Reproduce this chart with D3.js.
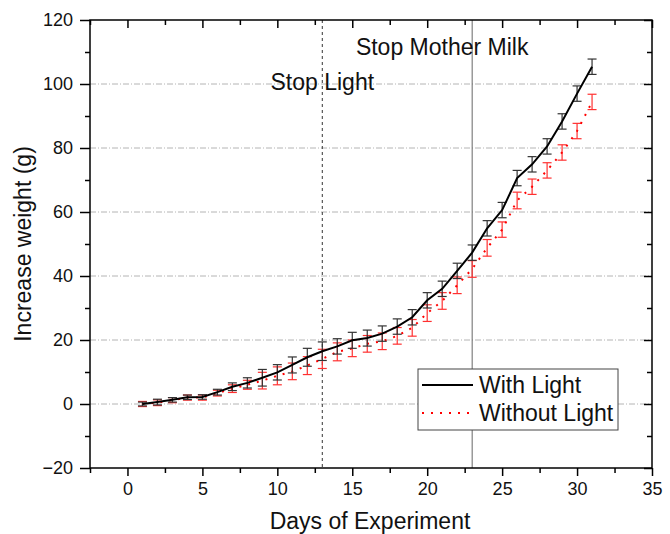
<!DOCTYPE html>
<html>
<head>
<meta charset="utf-8">
<script src="https://cdn.jsdelivr.net/npm/d3@7"></script>
<style>
  html, body { margin: 0; padding: 0; background: #fff; }
  svg { display: block; font-family: "Liberation Sans", Arial, sans-serif; }
</style>
</head>
<body>
<svg id="chart" width="670" height="534"></svg>
<script>
// ---- data ----
const days = [1,2,3,4,5,6,7,8,9,10,11,12,13,14,15,16,17,18,19,20,21,22,23,24,25,26,27,28,29,30,31];
const withLight = [0, 0.6, 1.3, 2.1, 2.2, 3.7, 5.4, 6.6, 8.2, 9.9, 12.2, 14.6, 16.5, 18.0, 19.9, 20.6, 22.0, 24.2, 27.1, 32.4, 36.0, 41.6, 47.3, 54.9, 60.6, 70.6, 74.9, 80.5, 88.3, 97.0, 105.4];
const withLightErr = [0.6, 0.9, 0.7, 0.7, 0.7, 0.9, 1.2, 1.6, 2.6, 2.4, 2.5, 2.8, 2.9, 2.4, 2.5, 2.5, 2.4, 2.4, 2.4, 2.4, 2.4, 2.4, 2.4, 2.4, 2.4, 2.4, 2.4, 2.4, 2.4, 2.4, 2.4];
const withoutLight = [0, 0.4, 1.2, 2.0, 2.0, 3.4, 4.8, 6.0, 7.3, 8.8, 10.2, 12.0, 14.1, 16.3, 17.4, 18.8, 19.6, 21.3, 23.8, 28.4, 32.2, 37.1, 42.2, 48.8, 54.5, 63.6, 67.9, 73.0, 78.6, 85.3, 94.4];
const withoutLightErr = [0.8, 0.9, 0.8, 0.8, 0.8, 0.9, 1.2, 1.4, 2.6, 2.8, 2.6, 2.8, 3.0, 2.8, 2.6, 2.6, 2.6, 2.6, 2.6, 2.6, 2.6, 2.6, 2.6, 2.6, 2.4, 2.6, 2.4, 2.4, 2.4, 2.4, 2.4];
const xMajorTicks = [0, 5, 10, 15, 20, 25, 30, 35];
const xMinorTicks = [-2.5, 2.5, 7.5, 12.5, 17.5, 22.5, 27.5, 32.5];
const yMajorTicks = [-20, 0, 20, 40, 60, 80, 100, 120];
const yMinorTicks = [-10, 10, 30, 50, 70, 90, 110];
const gridValues = [0, 20, 40, 60, 80, 100];
const markers = [{day: 13, label: "Stop Light"}, {day: 23, label: "Stop Mother Milk"}];
const seriesNames = ["With Light", "Without Light"];

// ---- layout ----
const L = 90, R = 652, T = 20, B = 468;
const svg = d3.select("#chart");
const x = d3.scaleLinear().domain([-2.5, 35]).range([L, R]);
const y = d3.scaleLinear().domain([-20, 120]).range([B, T]);

// gridlines
svg.append("g").selectAll("line").data(gridValues).join("line")
  .attr("x1", L).attr("x2", R)
  .attr("y1", d => y(d)).attr("y2", d => y(d))
  .attr("stroke", "#b4b4b4").attr("stroke-width", 1)
  .attr("stroke-dasharray", "6,2,1,2");

// vertical event lines
svg.append("line")
  .attr("x1", x(markers[0].day)).attr("x2", x(markers[0].day))
  .attr("y1", T).attr("y2", B)
  .attr("stroke", "#333").attr("stroke-width", 1).attr("stroke-dasharray", "3,3");
svg.append("line")
  .attr("x1", x(markers[1].day)).attr("x2", x(markers[1].day))
  .attr("y1", T).attr("y2", B)
  .attr("stroke", "#666").attr("stroke-width", 1);

// annotations
svg.append("text").attr("x", x(markers[1].day) - 30).attr("y", 55)
  .attr("text-anchor", "middle").attr("font-size", 23).attr("fill", "#111")
  .text(markers[1].label);
svg.append("text").attr("x", x(markers[0].day)).attr("y", 90)
  .attr("text-anchor", "middle").attr("font-size", 23).attr("fill", "#111")
  .text(markers[0].label);

// error bar helper
function errorBars(vals, errs, color) {
  const g = svg.append("g").attr("stroke", color).attr("stroke-width", 1.2).attr("fill", "none");
  const cap = 4.5;
  days.forEach((d, i) => {
    const cx = x(d), y1 = y(vals[i] + errs[i]), y2 = y(vals[i] - errs[i]);
    g.append("line").attr("x1", cx).attr("x2", cx).attr("y1", y1).attr("y2", y2);
    g.append("line").attr("x1", cx - cap).attr("x2", cx + cap).attr("y1", y1).attr("y2", y1);
    g.append("line").attr("x1", cx - cap).attr("x2", cx + cap).attr("y1", y2).attr("y2", y2);
  });
}

const line = d3.line().x((d, i) => x(days[i])).y(d => y(d));

// Without Light (red dotted)
errorBars(withoutLight, withoutLightErr, "#ff3030");
svg.append("path").datum(withoutLight).attr("d", line)
  .attr("fill", "none").attr("stroke", "#ff0000").attr("stroke-width", 2)
  .attr("stroke-dasharray", "2,7");

// With Light (black solid)
errorBars(withLight, withLightErr, "#333");
svg.append("path").datum(withLight).attr("d", line)
  .attr("fill", "none").attr("stroke", "#000").attr("stroke-width", 2);

// axes
const fmt = d3.format("d");
function styleAxis(g) {
  g.select(".domain").remove();
  g.selectAll("line").attr("stroke", "#000").attr("stroke-width", 1.5);
  g.selectAll("text").attr("font-size", 18).attr("fill", "#111")
    .attr("font-family", "'Liberation Sans', Arial, sans-serif");
}
// bottom
svg.append("g").attr("transform", `translate(0,${B})`)
  .call(d3.axisBottom(x).tickValues(xMajorTicks).tickFormat(fmt).tickSize(8).tickPadding(6))
  .call(styleAxis);
svg.append("g").attr("transform", `translate(0,${B})`)
  .call(d3.axisBottom(x).tickValues(xMinorTicks).tickFormat("").tickSize(5))
  .call(styleAxis);
// top (inward)
svg.append("g").attr("transform", `translate(0,${T})`)
  .call(d3.axisTop(x).tickValues(xMajorTicks).tickFormat("").tickSize(-8))
  .call(styleAxis);
svg.append("g").attr("transform", `translate(0,${T})`)
  .call(d3.axisTop(x).tickValues(xMinorTicks).tickFormat("").tickSize(-5))
  .call(styleAxis);
// left
svg.append("g").attr("transform", `translate(${L},0)`)
  .call(d3.axisLeft(y).tickValues(yMajorTicks).tickFormat(fmt).tickSize(10).tickPadding(7))
  .call(styleAxis);
svg.append("g").attr("transform", `translate(${L},0)`)
  .call(d3.axisLeft(y).tickValues(yMinorTicks).tickFormat("").tickSize(5))
  .call(styleAxis);
// right (inward)
svg.append("g").attr("transform", `translate(${R},0)`)
  .call(d3.axisRight(y).tickValues(yMajorTicks).tickFormat("").tickSize(-8))
  .call(styleAxis);
svg.append("g").attr("transform", `translate(${R},0)`)
  .call(d3.axisRight(y).tickValues(yMinorTicks).tickFormat("").tickSize(-5))
  .call(styleAxis);

// frame
svg.append("rect").attr("x", L).attr("y", T).attr("width", R - L).attr("height", B - T)
  .attr("fill", "none").attr("stroke", "#000").attr("stroke-width", 1.5);

// axis titles
svg.append("text").attr("x", (L + R) / 2 - 1).attr("y", 529)
  .attr("text-anchor", "middle").attr("font-size", 23).attr("fill", "#111")
  .text("Days of Experiment");
svg.append("text").attr("transform", `translate(31,${(T + B) / 2}) rotate(-90)`)
  .attr("text-anchor", "middle").attr("font-size", 23).attr("fill", "#111")
  .text("Increase weight (g)");

// legend
const lg = svg.append("g");
lg.append("rect").attr("x", 418).attr("y", 369).attr("width", 200).attr("height", 61)
  .attr("fill", "#fff").attr("stroke", "#444").attr("stroke-width", 1);
lg.append("line").attr("x1", 422).attr("x2", 473).attr("y1", 385).attr("y2", 385)
  .attr("stroke", "#000").attr("stroke-width", 2);
lg.append("line").attr("x1", 422).attr("x2", 473).attr("y1", 413).attr("y2", 413)
  .attr("stroke", "#ff0000").attr("stroke-width", 2).attr("stroke-dasharray", "2,7");
lg.append("text").attr("x", 479).attr("y", 393).attr("font-size", 23).attr("fill", "#111").text(seriesNames[0]);
lg.append("text").attr("x", 479).attr("y", 421).attr("font-size", 23).attr("fill", "#111").text(seriesNames[1]);
</script>
</body>
</html>
